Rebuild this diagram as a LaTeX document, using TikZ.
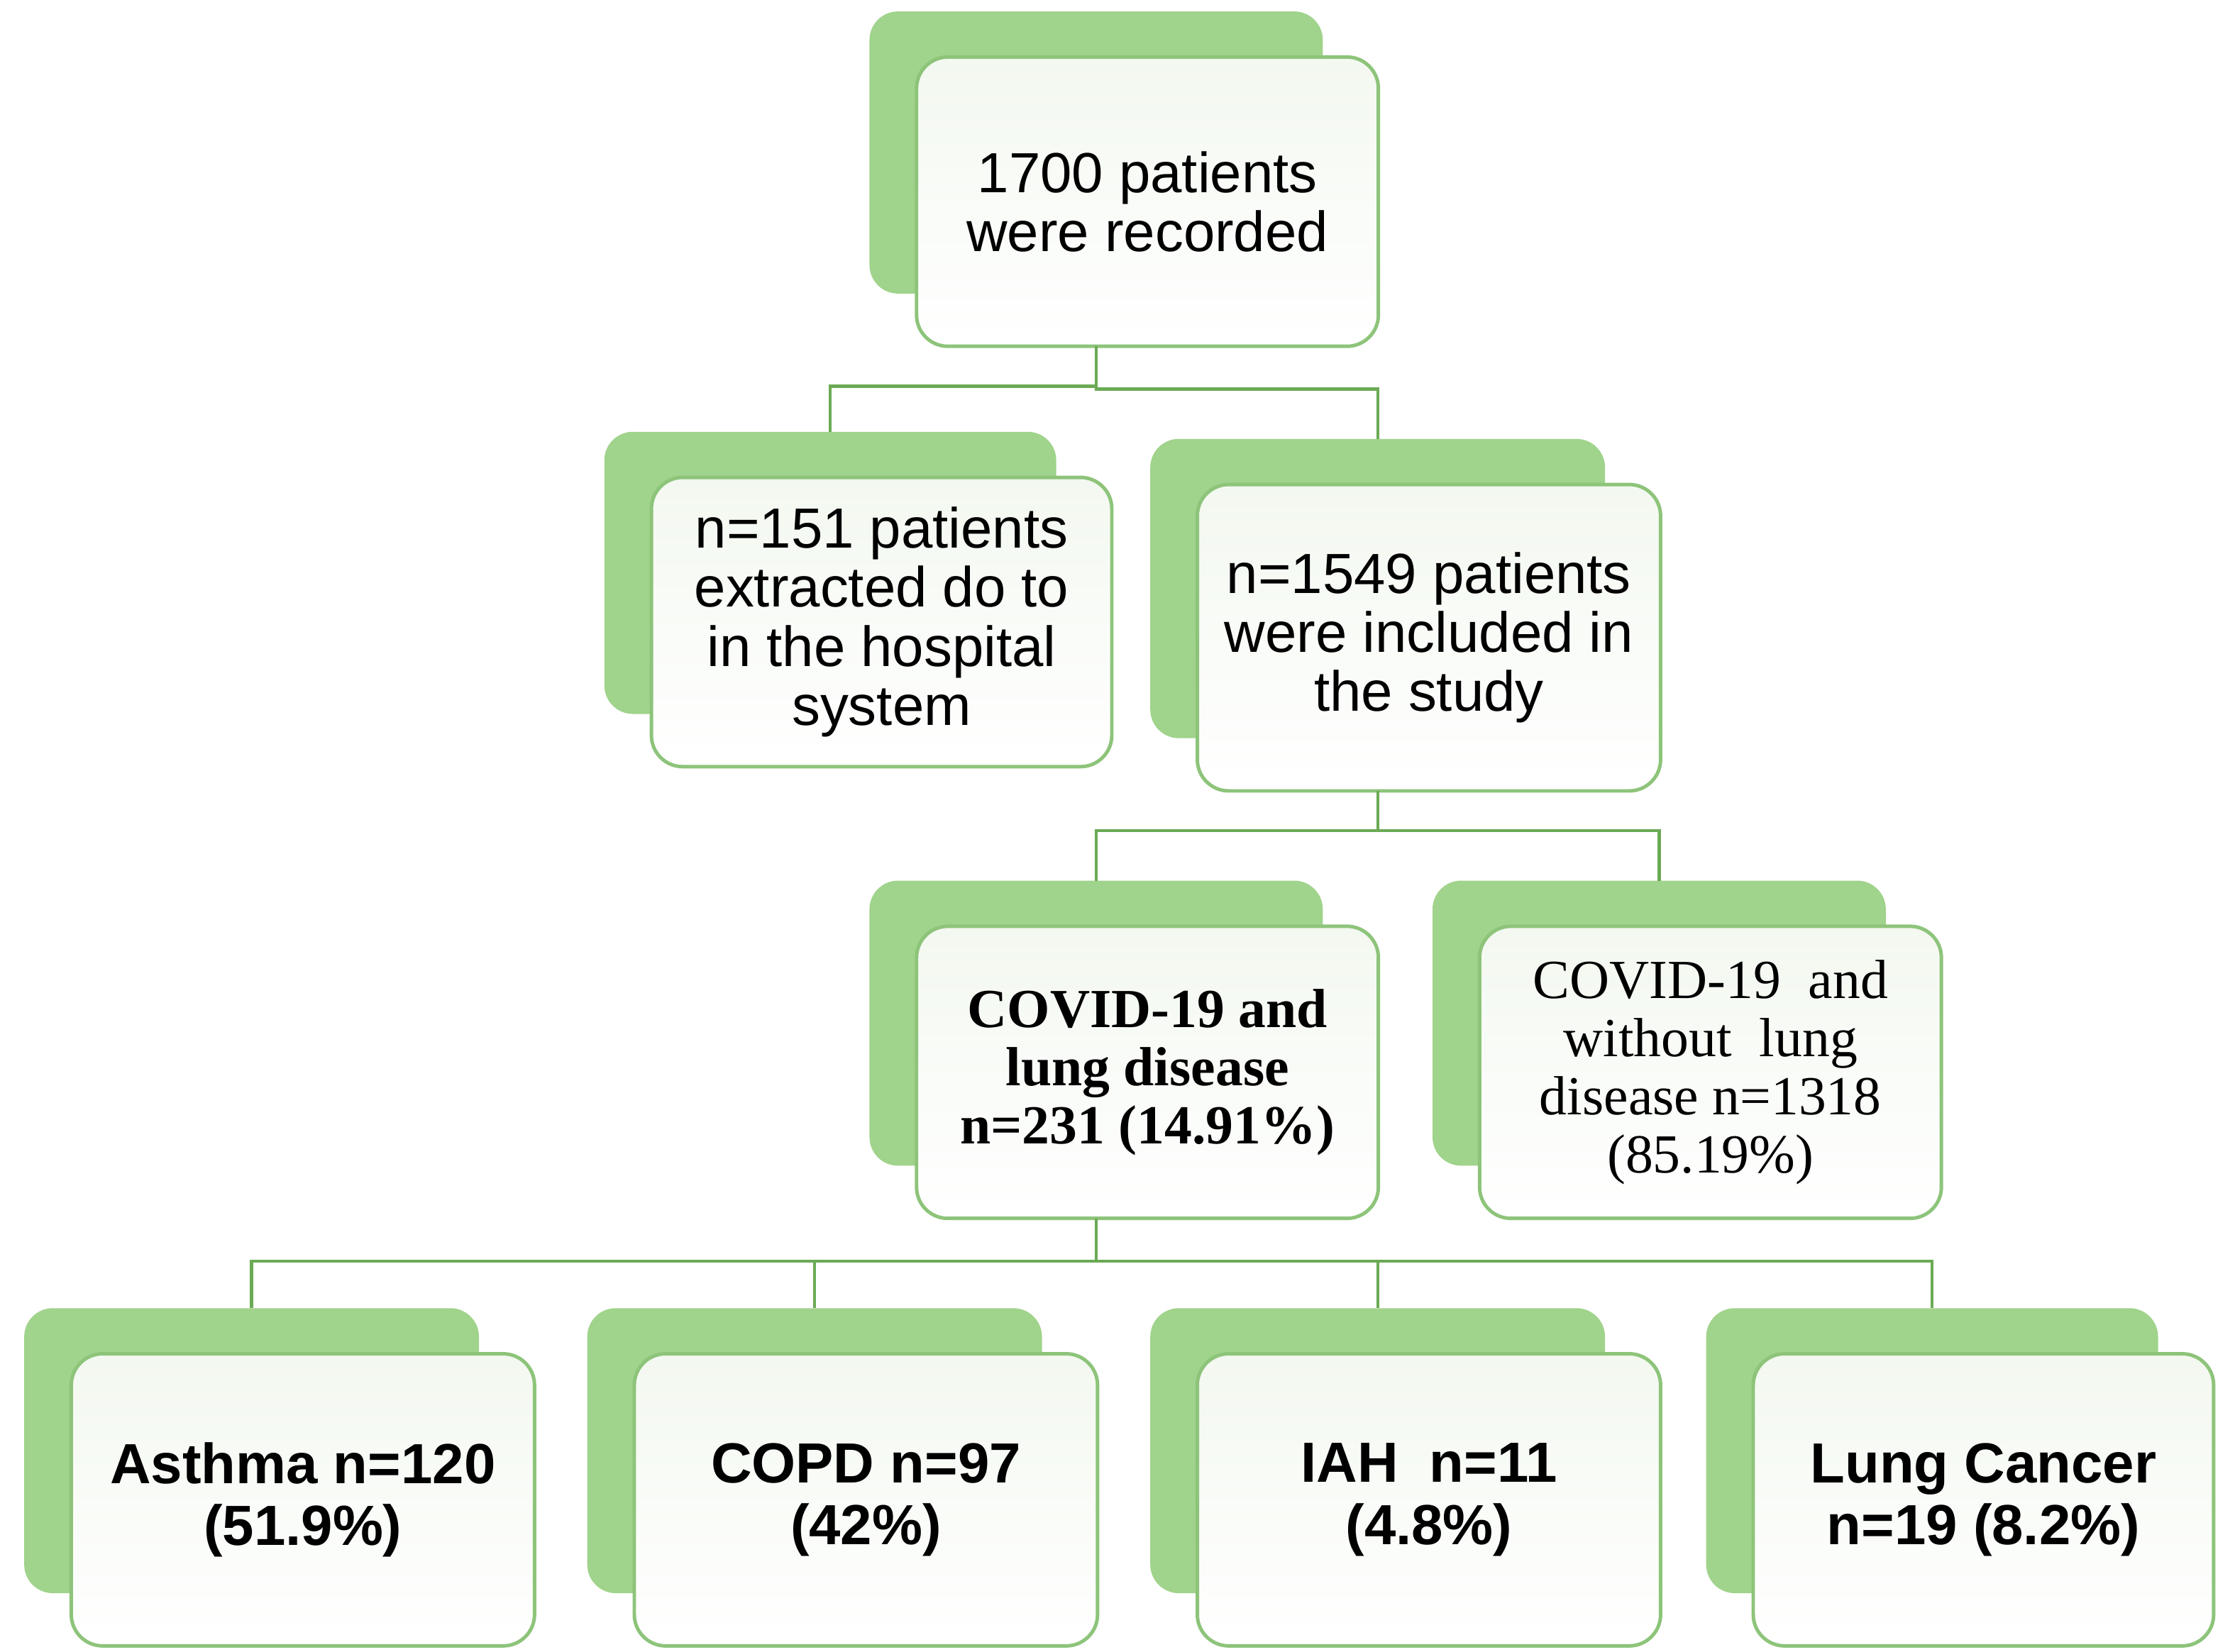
\documentclass[tikz,border=0pt]{standalone}
\usepackage{fontspec}
\setmainfont{Liberation Sans}
\newfontfamily\timesf{Liberation Serif}
\usetikzlibrary{calc}
\definecolor{backgreen}{HTML}{A0D38B}
\definecolor{edgegreen}{HTML}{8DC47A}
\definecolor{linegreen}{HTML}{6BAA55}
\definecolor{frontfill}{HTML}{F3F8F0}
\tikzset{
  backbox/.style={fill=backgreen, rounded corners=0.2cm, anchor=north west, inner sep=0pt, outer sep=0pt},
  frontbox/.style={draw=edgegreen, line width=0.7pt, top color=frontfill, bottom color=white, rounded corners=0.22cm, anchor=north west, inner sep=0pt, outer sep=0pt, align=center},
  conn/.style={draw=linegreen, line width=0.6pt},
  sansreg/.style={font=\fontsize{11.3}{11.8}\selectfont},
  sansbold/.style={font=\fontsize{11.3}{12.4}\selectfont\bfseries},
  serifbold/.style={font=\timesf\fontsize{11}{11.6}\selectfont\bfseries},
  serifreg/.style={font=\timesf\fontsize{11}{11.6}\selectfont}
}
% name, left, top, width, height, style, text
\newcommand\stackbox[7]{%
  \node[backbox, minimum width=#4cm-0.06cm, minimum height=#5cm-0.05cm] (b#1) at (#2-0.33,-#3+0.32) {};
  \node[frontbox, #6, minimum width=#4cm, minimum height=#5cm] (f#1) at (#2,-#3) {#7};
}
\begin{document}
\begin{tikzpicture}
\fill[white] (0,0) rectangle (15.68,-11.59);
\useasboundingbox (0,0) rectangle (15.68,-11.59);

\stackbox{A}{6.43}{0.40}{3.24}{2.03}{sansreg}{1700 patients\\were recorded}
\stackbox{B}{4.57}{3.35}{3.23}{2.03}{sansreg}{n=151 patients\\extracted do to\\in the hospital\\system}
\stackbox{C}{8.40}{3.40}{3.25}{2.15}{sansreg}{n=1549 patients\\were included in\\the study}
\stackbox{D}{6.43}{6.50}{3.24}{2.05}{serifbold}{COVID-19 and\\lung disease\\n=231 (14.91\%)}
\stackbox{E}{10.38}{6.50}{3.24}{2.05}{serifreg}{COVID-19\ \ and\\without\ \ lung\\disease n=1318\\(85.19\%)}
\stackbox{F1}{0.50}{9.50}{3.25}{2.05}{sansbold}{Asthma n=120\\(51.9\%)}
\stackbox{F2}{4.45}{9.50}{3.25}{2.05}{sansbold}{COPD n=97\\(42\%)}
\stackbox{F3}{8.40}{9.50}{3.25}{2.05}{sansbold}{IAH\ \ n=11\\(4.8\%)}
\stackbox{F4}{12.30}{9.50}{3.23}{2.05}{sansbold}{Lung Cancer\\n=19 (8.2\%)}

% connectors
\draw[conn] (bA.south |- fA.south) -- ++(0,-0.28) -| (bB.north);
\draw[conn] (bA.south |- fA.south) -- ++(0,-0.30) -| (bC.north);
\draw[conn] (bC.south |- fC.south) -- ++(0,-0.28) -| (bD.north);
\draw[conn] (bC.south |- fC.south) -- ++(0,-0.28) -| (bE.north);
\draw[conn] (bD.south |- fD.south) -- ++(0,-0.30) -| (bF1.north);
\draw[conn] (bD.south |- fD.south) -- ++(0,-0.30) -| (bF2.north);
\draw[conn] (bD.south |- fD.south) -- ++(0,-0.30) -| (bF3.north);
\draw[conn] (bD.south |- fD.south) -- ++(0,-0.30) -| (bF4.north);
\end{tikzpicture}
\end{document}
